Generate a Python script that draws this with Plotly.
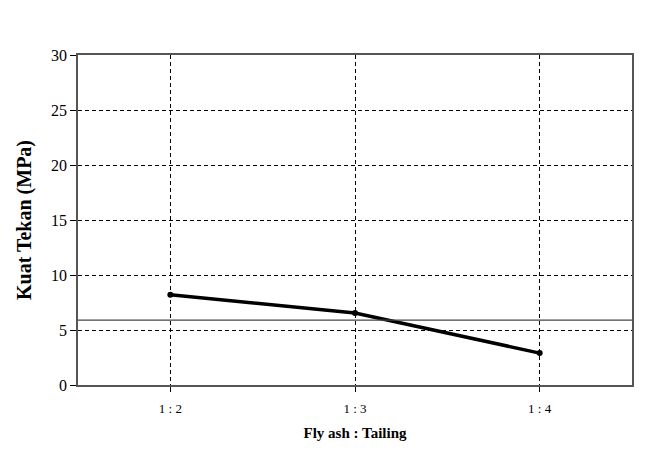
import plotly.graph_objects as go

categories = ["1 : 2", "1 : 3", "1 : 4"]
kuat_tekan = [8.2, 6.55, 2.9]
batas = 5.9
y_ticks = [0, 5, 10, 15, 20, 25, 30]

fig = go.Figure()
fig.add_trace(go.Scatter(
    x=[0, 1, 2], y=kuat_tekan, mode="lines+markers",
    line=dict(color="black", width=3.5),
    marker=dict(color="black", size=6),
    showlegend=False, cliponaxis=False))
fig.add_shape(type="line", xref="paper", x0=0, x1=1, yref="y", y0=batas, y1=batas,
              line=dict(color="#444", width=1.2), layer="above")

fig.update_layout(
    width=651, height=456,
    margin=dict(l=78, r=19, t=55, b=71),
    paper_bgcolor="white", plot_bgcolor="white",
    font=dict(family="Liberation Serif", color="black"),
    xaxis=dict(
        range=[-0.5, 2.5], tickmode="array", tickvals=[0, 1, 2], ticktext=categories,
        showgrid=True, gridcolor="black", griddash="4px,3px", gridwidth=1,
        showline=True, linecolor="#555", linewidth=1.5, mirror=True,
        ticks="outside", ticklen=5, tickcolor="black", ticklabelstandoff=6,
        tickfont=dict(size=13, family="Liberation Serif"),
        title=dict(text="<b>Fly ash : Tailing</b>", font=dict(size=15, family="Liberation Serif"), standoff=12),
        zeroline=False),
    yaxis=dict(
        range=[0, 30], tickmode="array", tickvals=y_ticks,
        showgrid=True, gridcolor="black", griddash="4px,3px", gridwidth=1,
        showline=True, linecolor="#555", linewidth=1.5, mirror=True,
        ticks="outside", ticklen=6, tickcolor="black",
        tickfont=dict(size=16, family="Liberation Serif"),
        title=dict(text="<b>Kuat Tekan (MPa)</b>", font=dict(size=20, family="Liberation Serif"), standoff=14),
        zeroline=False),
)
fig.write_html("out.html")
